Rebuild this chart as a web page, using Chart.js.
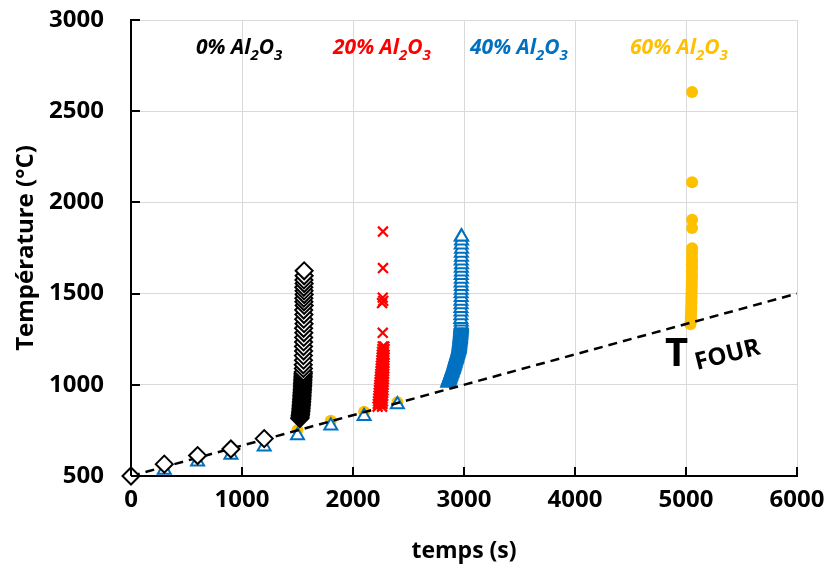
<!DOCTYPE html>
<html>
<head>
<meta charset="utf-8">
<script src="https://cdn.jsdelivr.net/npm/chart.js@4/dist/chart.umd.min.js"></script>
<style>
  body { margin: 0; background: #fff; }
  canvas { display: block; }
</style>
</head>
<body>
<canvas id="chart" width="830" height="571"></canvas>
<script>
// 0% Al2O3 - time (s) and temperature (°C), in measurement order
const t0 = [0, 300, 600, 900, 1200,
  1521, 1523, 1525, 1527, 1528, 1530, 1531, 1532, 1533, 1534, 1535, 1536, 1537, 1538, 1539, 1540, 1540,
  1541, 1542, 1543, 1544, 1544, 1545, 1546, 1546, 1547, 1548, 1548, 1549, 1550, 1550, 1551, 1552,
  1553, 1552, 1554, 1553, 1555, 1554, 1555, 1556,
  1557, 1555, 1559, 1556, 1558, 1556, 1560, 1558, 1557, 1560, 1559, 1557, 1560, 1558, 1560, 1560];
const T0 = [500, 565, 612, 648, 705,
  815, 822, 830, 838, 846, 854, 862, 870, 878, 886, 894, 902, 910, 918, 926, 934, 942,
  950, 958, 966, 974, 982, 990, 998, 1006, 1014, 1022, 1030, 1038, 1046, 1054, 1062, 1070,
  1090, 1110, 1135, 1160, 1185, 1210, 1235, 1260,
  1285, 1310, 1335, 1360, 1385, 1410, 1435, 1455, 1475, 1495, 1515, 1535, 1555, 1575, 1598, 1625];

// 20% Al2O3
const t20 = [
  2222, 2262, 2224, 2266, 2226, 2270, 2228, 2268, 2230, 2272, 2232, 2270, 2234, 2274,
  2236, 2272, 2238, 2276, 2240, 2275, 2242, 2278, 2244, 2276, 2246, 2280, 2248, 2278, 2250, 2282,
  2252, 2280, 2255, 2283, 2256, 2280, 2258, 2282, 2260, 2284, 2262, 2280, 2265, 2285, 2268, 2282,
  2268, 2262, 2272, 2268, 2270, 2270];
const T20 = [
  880, 880, 895, 895, 910, 910, 925, 925, 940, 940, 955, 955, 970, 970,
  985, 985, 1000, 1000, 1015, 1015, 1030, 1030, 1045, 1045, 1060, 1060, 1075, 1075, 1090, 1090,
  1105, 1105, 1120, 1120, 1135, 1135, 1150, 1150, 1165, 1165, 1180, 1180, 1195, 1195, 1210, 1210,
  1285, 1448, 1460, 1478, 1640, 1840];

// 40% Al2O3
const t40 = [300, 600, 900, 1200, 1500, 1800, 2100, 2400,
  2855, 2858, 2861, 2864, 2867, 2870, 2873, 2876, 2879, 2882, 2885, 2888, 2891, 2893, 2896, 2899,
  2902, 2905, 2908, 2910, 2913, 2915, 2917, 2920, 2922, 2924, 2927, 2929, 2932, 2934, 2936, 2939,
  2941, 2944, 2946, 2948, 2951, 2953, 2955, 2956, 2957, 2958, 2959, 2960, 2961, 2962, 2963, 2964,
  2965, 2966, 2966, 2967, 2968, 2969, 2970, 2970, 2971, 2972, 2972, 2973, 2973, 2974, 2974, 2975, 2975,
  2975, 2971, 2972, 2973, 2972, 2974, 2973, 2975, 2974, 2975, 2976, 2974, 2976, 2975, 2977, 2976, 2978,
  2975, 2977, 2976, 2978, 2975, 2978, 2976, 2978];
const T40 = [533, 578, 615, 661, 722, 775, 828, 892,
  1010, 1015, 1020, 1025, 1030, 1035, 1040, 1045, 1050, 1055, 1060, 1065, 1070, 1075, 1080, 1085,
  1090, 1095, 1100, 1105, 1110, 1115, 1120, 1125, 1130, 1135, 1140, 1145, 1150, 1155, 1160, 1165,
  1170, 1175, 1180, 1185, 1190, 1195, 1200, 1205, 1210, 1215, 1220, 1225, 1230, 1235, 1240, 1245,
  1250, 1255, 1260, 1265, 1270, 1275, 1280, 1285, 1290, 1295, 1300, 1305, 1310, 1315, 1320, 1325, 1330,
  1345, 1360, 1380, 1400, 1420, 1440, 1460, 1480, 1500, 1520, 1540, 1560, 1580, 1600, 1620, 1640, 1660,
  1680, 1700, 1722, 1745, 1768, 1790, 1812, 1812];

// 60% Al2O3
const t60 = [300, 1500, 1800, 2100, 2400,
  5040, 5042, 5043, 5044, 5045, 5046, 5048, 5047, 5049, 5048, 5050, 5049, 5051, 5050, 5052, 5051,
  5053, 5052, 5054, 5052, 5055, 5053, 5055, 5053, 5055, 5055, 5055, 5055, 5055, 5055];
const T60 = [545, 752, 803, 852, 905,
  1332, 1345, 1360, 1375, 1390, 1405, 1420, 1435, 1450, 1465, 1480, 1495, 1510, 1525, 1540, 1555,
  1570, 1585, 1600, 1620, 1640, 1660, 1680, 1700, 1725, 1748, 1860, 1905, 2110, 2605];

// furnace temperature ramp
const tFour = [0, 6000];
const TFour = [500, 1500];

const xTicks = [0, 1000, 2000, 3000, 4000, 5000, 6000];
const yTicks = [500, 1000, 1500, 2000, 2500, 3000];

const labels = [
  { color: '#000000', x: 196, parts: [['0% Al', false], ['2', true], ['O', false], ['3', true]] },
  { color: '#FF0000', x: 333, parts: [['20% Al', false], ['2', true], ['O', false], ['3', true]] },
  { color: '#0070C0', x: 470, parts: [['40% Al', false], ['2', true], ['O', false], ['3', true]] },
  { color: '#FFC000', x: 630, parts: [['60% Al', false], ['2', true], ['O', false], ['3', true]] }
];

const FONT = "'Open Sans', sans-serif";

function pairs(xs, ys) {
  return xs.map((x, i) => ({ x: x, y: ys[i] }));
}

// draws the small tick marks inside the plot, the series labels and T FOUR
const extrasPlugin = {
  id: 'extras',
  afterDraw(chart) {
    const ctx = chart.ctx;
    const area = chart.chartArea;
    const xs = chart.scales.x;
    const ys = chart.scales.y;
    ctx.save();
    ctx.strokeStyle = '#000';
    ctx.lineWidth = 2;
    xTicks.forEach(v => {
      const px = Math.round(xs.getPixelForValue(v));
      ctx.beginPath();
      ctx.moveTo(px, area.bottom);
      ctx.lineTo(px, area.bottom - 9);
      ctx.stroke();
    });
    yTicks.forEach(v => {
      const py = Math.round(ys.getPixelForValue(v));
      ctx.beginPath();
      ctx.moveTo(area.left, py);
      ctx.lineTo(area.left + 9, py);
      ctx.stroke();
    });

    // series labels with subscripts
    ctx.textBaseline = 'alphabetic';
    labels.forEach(lab => {
      let x = lab.x;
      ctx.fillStyle = lab.color;
      lab.parts.forEach(p => {
        ctx.font = p[1] ? `italic bold 15px ${FONT}` : `italic bold 21px ${FONT}`;
        ctx.fillText(p[0], x, p[1] ? 60 : 54);
        x += ctx.measureText(p[0]).width;
      });
    });

    // T FOUR
    ctx.fillStyle = '#000';
    ctx.font = `bold 40px ${FONT}`;
    ctx.fillText('T', 665, 366);
    ctx.save();
    ctx.translate(697, 370);
    ctx.rotate(-14 * Math.PI / 180);
    ctx.font = `bold 24px ${FONT}`;
    ctx.fillText('FOUR', 0, 0);
    ctx.restore();
    ctx.restore();
  }
};

new Chart(document.getElementById('chart').getContext('2d'), {
  type: 'scatter',
  data: {
    datasets: [
      {
        type: 'line',
        data: pairs(tFour, TFour),
        borderColor: '#000',
        borderWidth: 2.5,
        borderDash: [9, 6],
        pointRadius: 0,
        fill: false,
        order: 2
      },
      {
        data: pairs(t60, T60),
        pointStyle: 'circle',
        pointRadius: 6,
        backgroundColor: '#FFC000',
        borderColor: '#FFC000',
        borderWidth: 0,
        clip: false,
        order: 4
      },
      {
        data: pairs(t40, T40),
        pointStyle: 'triangle',
        pointRadius: 7.5,
        backgroundColor: '#fff',
        borderColor: '#0070C0',
        borderWidth: 2,
        clip: false,
        order: 3
      },
      {
        data: pairs(t20, T20),
        pointStyle: 'crossRot',
        pointRadius: 7,
        borderColor: '#FF0000',
        borderWidth: 2.2,
        clip: false,
        order: 1
      },
      {
        data: pairs(t0, T0),
        pointStyle: 'rectRot',
        pointRadius: 8.5,
        backgroundColor: '#fff',
        borderColor: '#000',
        borderWidth: 2,
        clip: false,
        order: 0
      }
    ]
  },
  options: {
    responsive: false,
    animation: false,
    layout: { padding: { top: 20, right: 33, left: 0, bottom: 0 } },
    plugins: { legend: { display: false }, tooltip: { enabled: false } },
    scales: {
      x: {
        type: 'linear',
        min: 0,
        max: 6000,
        afterFit(scale) { scale.height = 95; scale.paddingLeft = 0; scale.paddingRight = 0; },
        afterBuildTicks(scale) { scale.ticks = xTicks.map(v => ({ value: v })); },
        grid: { color: '#d9d9d9', drawTicks: false },
        border: { display: true, color: '#000', width: 2 },
        ticks: { color: '#000', padding: 10, callback: v => String(v),
          font: { family: FONT, size: 24, weight: 'bold' } },
        title: { display: true, text: 'temps (s)', color: '#000', padding: { top: 0, bottom: 6 },
          font: { family: FONT, size: 23, weight: 'bold' } }
      },
      y: {
        type: 'linear',
        min: 500,
        max: 3000,
        afterFit(scale) { scale.width = 131; scale.paddingTop = 0; scale.paddingBottom = 0; },
        afterBuildTicks(scale) { scale.ticks = yTicks.map(v => ({ value: v })); },
        grid: { color: '#d9d9d9', drawTicks: false },
        border: { display: true, color: '#000', width: 2 },
        ticks: { color: '#000', padding: 27, callback: v => String(v),
          font: { family: FONT, size: 24, weight: 'bold' } },
        title: { display: true, text: 'Température (°C)', color: '#000', padding: { top: 12, bottom: 0 },
          font: { family: FONT, size: 24, weight: 'bold' } }
      }
    }
  },
  plugins: [extrasPlugin]
});
</script>
</body>
</html>
